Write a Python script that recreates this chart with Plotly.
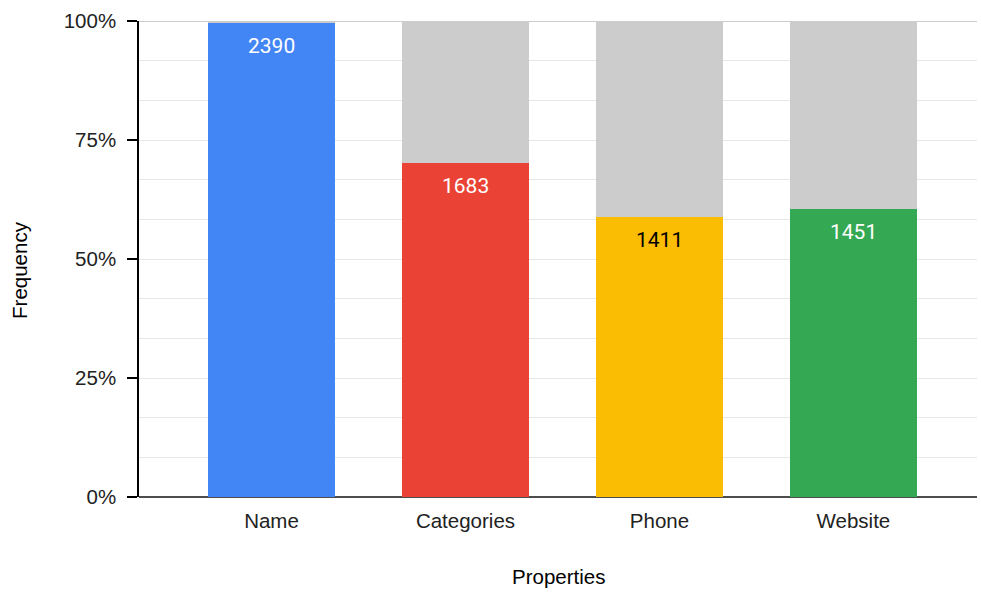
import plotly.graph_objects as go

# Share of records that carry each property
properties = ["Name", "Categories", "Phone", "Website"]
counts = [2390, 1683, 1411, 1451]
total_records = 2400
missing = [total_records - c for c in counts]

bar_colors = ["#4285F4", "#EA4335", "#FBBC04", "#34A853"]
label_colors = ["#FFFFFF", "#FFFFFF", "#000000", "#FFFFFF"]
rest_color = "#CCCCCC"

y_ticks = [0, 25, 50, 75, 100]
y_ticktext = ["0%", "25%", "50%", "75%", "100%"]

SANS = "Liberation Sans, Arial"
FS = 20.5

fig = go.Figure()
fig.add_trace(go.Bar(x=properties, y=counts, marker=dict(color=bar_colors, line=dict(width=0)),
                     hoverinfo="skip", showlegend=False))
fig.add_trace(go.Bar(x=properties, y=missing, marker=dict(color=rest_color, line=dict(width=0)),
                     hoverinfo="skip", showlegend=False))

# value labels just inside the top of each coloured segment
for i, (p, c) in enumerate(zip(properties, counts)):
    pct = c / (c + missing[i]) * 100
    fig.add_annotation(x=p, y=pct, xref="x", yref="y", text=str(c), showarrow=False,
                       yanchor="top", yshift=-9,
                       font=dict(family="Roboto", size=21, color=label_colors[i]))

# axis titles
fig.add_annotation(text="Frequency", xref="paper", yref="paper", x=-0.142, y=0.477,
                   textangle=-90, showarrow=False, xanchor="center", yanchor="middle",
                   font=dict(family=SANS, size=FS, color="#000"))
fig.add_annotation(text="Properties", xref="paper", yref="paper", x=0.5, y=-0.166,
                   showarrow=False, xanchor="center", yanchor="middle",
                   font=dict(family=SANS, size=FS, color="#000"))

# darker line along the 100% edge
fig.add_shape(type="line", xref="paper", yref="y", x0=0, x1=1, y0=100, y1=100,
              line=dict(color="#CCCCCC", width=2), layer="below")

fig.update_layout(
    width=981, height=593,
    margin=dict(l=139, r=4, t=21, b=96),
    paper_bgcolor="white", plot_bgcolor="white",
    barmode="stack", barnorm="percent", bargap=0.345,
    font=dict(family=SANS, size=FS, color="#000"),
)
fig.update_xaxes(
    range=[-0.683, 3.637], showgrid=False, ticks="", ticklabelstandoff=9,
    showline=False, zeroline=False,
    tickfont=dict(family=SANS, size=FS, color="#222"),
)
fig.update_yaxes(
    range=[0, 100], tickvals=y_ticks, ticktext=y_ticktext,
    ticks="outside", ticklen=10, tickcolor="#000", tickwidth=2,
    ticklabelstandoff=7,
    showline=True, linecolor="#000", linewidth=1.5,
    showgrid=True, gridcolor="#E6E6E6", gridwidth=1,
    minor=dict(tickvals=[100 * k / 12 for k in range(13)], showgrid=True,
               gridcolor="#E6E6E6", gridwidth=1, ticks=""),
    zeroline=True, zerolinecolor="#4D4D4D", zerolinewidth=2,
    tickfont=dict(family=SANS, size=FS, color="#222"),
)

fig.write_html("out.html")
